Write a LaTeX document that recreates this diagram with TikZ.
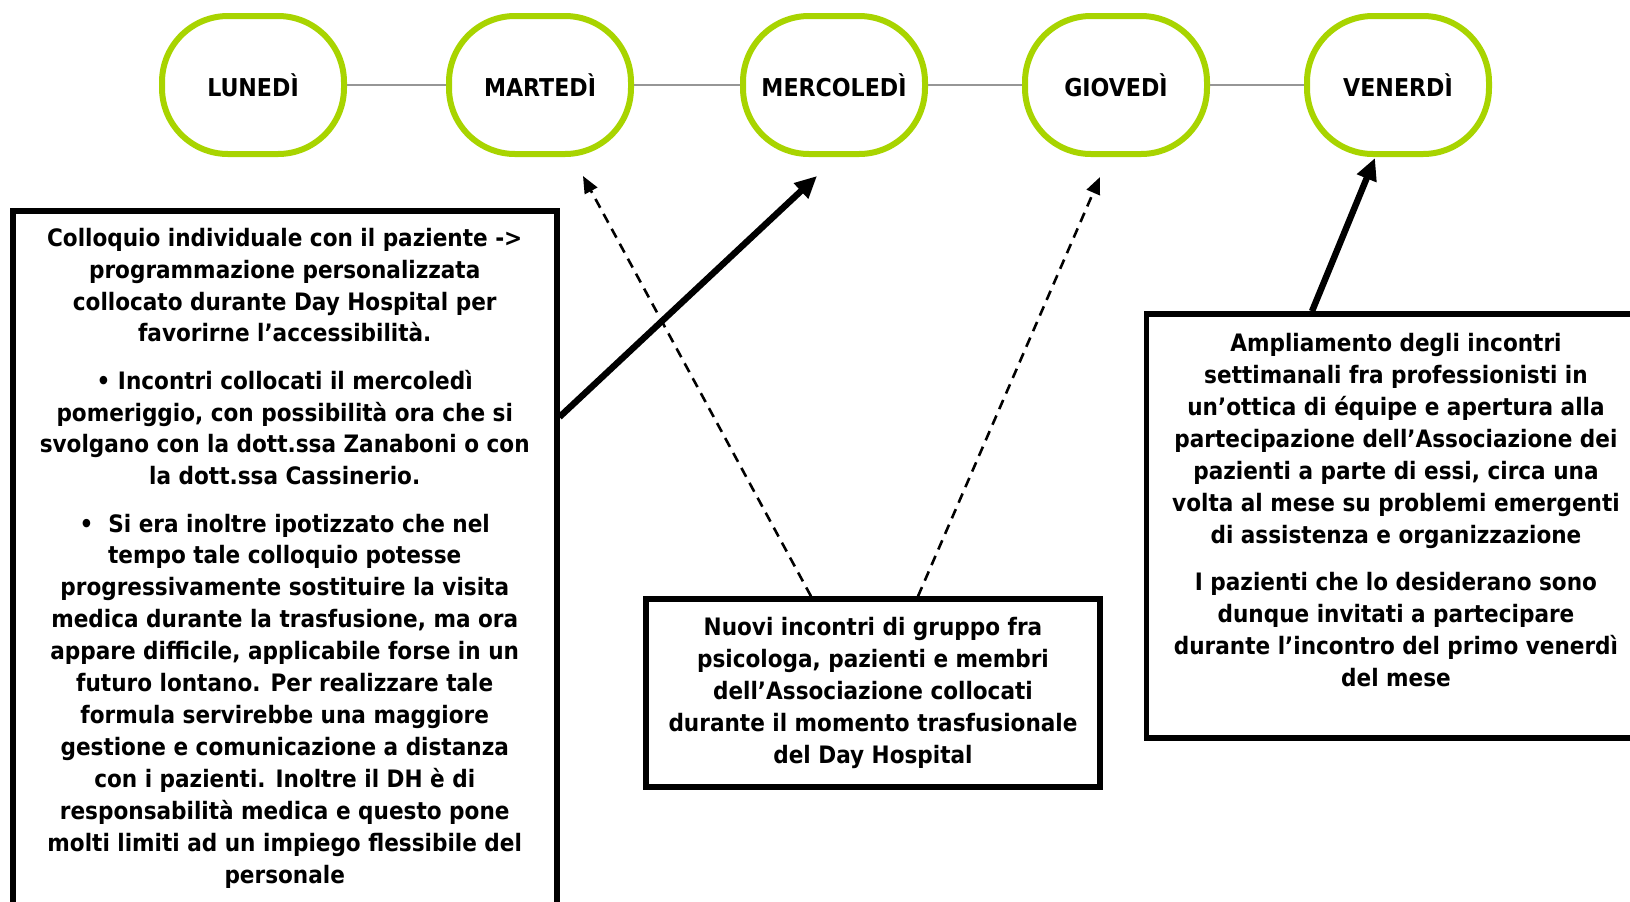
\documentclass[tikz,border=0pt]{standalone}
\usepackage{fontspec}
\setmainfont{DejaVu Sans Condensed}
\usepackage{xcolor}
\usetikzlibrary{arrows.meta}
\definecolor{lime}{RGB}{168,212,0}
\definecolor{linkgray}{RGB}{150,150,150}

\begin{document}
\begin{tikzpicture}[x=0.5pt,y=-0.5pt,
  daybox/.style={draw=lime, line width=3pt, rounded corners=33pt, minimum width=91pt, minimum height=69pt, font=\bfseries\fontsize{12.3}{14}\selectfont},
  notebox/.style={draw, line width=2.75pt, align=center, font=\bfseries\fontsize{12}{16}\selectfont},
  link/.style={linkgray, line width=1pt},
  thickarrow/.style={line width=3.2pt, -{Triangle[length=11pt,width=10pt]}},
  dasharrow/.style={line width=1.3pt, dash pattern=on 5pt off 3.5pt, -{Triangle[length=8.5pt,width=7pt]}}]
\useasboundingbox (0,0) rectangle (1630,901);
\draw node(mon)[daybox] at (253,85) {LUNEDÌ};
\draw node(tue)[daybox] at (540,85) {MARTEDÌ};
\draw node(wed)[daybox] at (834,85) {MERCOLEDÌ};
\draw node(thu)[daybox] at (1116,85) {GIOVEDÌ};
\draw node(fri)[daybox] at (1398,85) {VENERDÌ};
\draw[link] (mon) -- (tue);
\draw[link] (tue) -- (wed);
\draw[link] (wed) -- (thu);
\draw[link] (thu) -- (fri);
\draw node(lbox)[notebox, anchor=north west, minimum width=272pt, inner ysep=8.5pt] at (10,208) {Colloquio individuale con il paziente ->\\
programmazione personalizzata\\
collocato durante Day Hospital per\\
favorirne l’accessibilità.\\[7.5pt]
• Incontri collocati il mercoledì\\
pomeriggio, con possibilità ora che si\\
svolgano con la dott.ssa Zanaboni o con\\
la dott.ssa Cassinerio.\\[7.5pt]
•~ Si era inoltre ipotizzato che nel\\
tempo tale colloquio potesse\\
progressivamente sostituire la visita\\
medica durante la trasfusione, ma ora\\
appare difficile, applicabile forse in un\\
futuro lontano. Per realizzare tale\\
formula servirebbe una maggiore\\
gestione e comunicazione a distanza\\
con i pazienti. Inoltre il DH è di\\
responsabilità medica e questo pone\\
molti limiti ad un impiego flessibile del\\
personale};
\draw node(mbox)[notebox, minimum width=227pt, minimum height=94pt] at (873,693) {Nuovi incontri di gruppo fra\\
psicologa, pazienti e membri\\
dell’Associazione collocati\\
durante il momento trasfusionale\\
del Day Hospital};
\draw node(rbox)[notebox, minimum width=249.5pt, minimum height=212pt] at (1396,526) {Ampliamento degli incontri\\
settimanali fra professionisti in\\
un’ottica di équipe e apertura alla\\
partecipazione dell’Associazione dei\\
pazienti a parte di essi, circa una\\
volta al mese su problemi emergenti\\
di assistenza e organizzazione\\[7.5pt]
I pazienti che lo desiderano sono\\
dunque invitati a partecipare\\
durante l’incontro del primo venerdì\\
del mese\\
\phantom{I}};
\draw[thickarrow] ([yshift=-104.5pt]lbox.north east) -- ([shift={(-17,19)}]wed.south);
\draw[dasharrow] ([xshift=-31pt]mbox.north) -- ([shift={(43,19)}]tue.south);
\draw[dasharrow] ([xshift=22.5pt]mbox.north) -- ([shift={(-16,20)}]thu.south);
\draw[thickarrow] ([xshift=-42pt]rbox.north) -- ([shift={(-23,1)}]fri.south);
\end{tikzpicture}
\end{document}
